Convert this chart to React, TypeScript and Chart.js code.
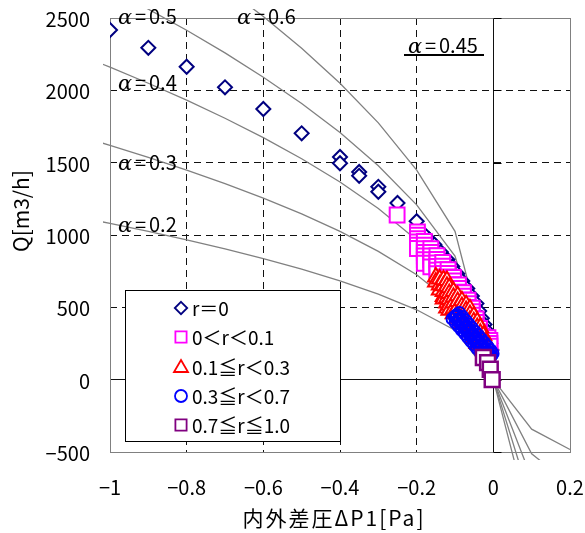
import React, { useEffect, useRef } from 'react';
import { Chart, registerables } from 'chart.js';

Chart.register(...registerables);

const FONT = "'Noto Sans CJK JP', 'Noto Sans', sans-serif";

// ---- axes / text ----
const xTickValues = [-1, -0.8, -0.6, -0.4, -0.2, 0, 0.2];
const yTickValues = [-500, 0, 500, 1000, 1500, 2000, 2500];
const xTitle = '内外差圧ΔP1[Pa]';
const yTitle = 'Q[m3/h]';
const legendLabels = ['r＝0', '0＜r＜0.1', '0.1≦r＜0.3', '0.3≦r＜0.7', '0.7≦r≦1.0'];

// ---- alpha reference curves ----
const curveX = [-1.1, -1, -0.9, -0.8, -0.7, -0.6, -0.5, -0.4, -0.3, -0.2, -0.1, 0, 0.1, 0.2, 0.3];
const curveA02 = [1133, 1080, 1025, 966, 904, 837, 764, 683, 592, 483, 342, 0, -342, -483, -592];
const curveA03 = [1699, 1620, 1537, 1449, 1355, 1255, 1146, 1025, 887, 725, 512, 0, -512, -725, -887];
const curveA04 = [2265, 2160, 2049, 1932, 1807, 1673, 1527, 1366, 1183, 966, 683, 0, -683, -966, -1183];
const curveA05 = [2832, 2700, 2561, 2415, 2259, 2091, 1909, 1708, 1479, 1208, 854, 0, -854, -1208, -1479];
const curveA06 = [3398, 3240, 3074, 2898, 2711, 2510, 2291, 2049, 1775, 1449, 1025, 0, -1025, -1449, -1775];

// ---- r = 0 (navy diamonds) ----
const r0X = [-1, -0.9, -0.8, -0.7, -0.6, -0.5, -0.4, -0.4, -0.35, -0.35, -0.3, -0.3, -0.25, -0.2,
  -0.18, -0.167, -0.154, -0.137, -0.12, -0.107, -0.094, -0.081, -0.068, -0.056, -0.044, -0.037,
  -0.03, -0.023, -0.017, -0.012, -0.008, -0.005];
const r0Q = [2417, 2294, 2163, 2021, 1871, 1703, 1539, 1496, 1436, 1409, 1333, 1299, 1221, 1095,
  1003, 967, 934, 882, 830, 782, 733, 682, 630, 578, 526, 474,
  425, 381, 338, 295, 252, 205];

// ---- 0 < r < 0.1 (magenta squares), columns ----
const r1ColX = [-0.251, -0.198, -0.18, -0.163, -0.147, -0.132, -0.118, -0.104, -0.091, -0.078,
  -0.066, -0.055, -0.045, -0.036, -0.028, -0.021, -0.014, -0.009];
const r1ColQ = [
  [1138],
  [1021, 998, 975, 952, 930, 907],
  [955, 930, 905, 880, 855, 830, 805],
  [905, 880, 855, 830, 805, 780],
  [857, 832, 807, 782, 757, 732],
  [810, 785, 760, 735, 710],
  [760, 735, 710, 685, 660],
  [707, 682, 657, 632, 607],
  [655, 630, 605, 580, 555],
  [602, 577, 552, 527, 502],
  [550, 525, 500, 475, 450],
  [495, 470, 445, 420, 395],
  [420, 395, 370, 345],
  [355, 330, 305, 280],
  [300, 275, 250],
  [262, 237, 212],
  [290, 262, 236],
  [272, 250, 232],
];

// ---- 0.1 <= r < 0.3 (red triangles), columns ----
const r2ColX = [-0.15, -0.14, -0.13, -0.121, -0.115, -0.104, -0.093, -0.082, -0.071, -0.061,
  -0.051, -0.042, -0.034, -0.026, -0.019, -0.011];
const r2ColQ = [
  [709, 675],
  [695, 655, 620],
  [690, 650, 610, 575, 557],
  [685, 645, 605, 565, 530, 495],
  [635, 595, 555, 515, 480],
  [610, 570, 530, 490, 455],
  [580, 540, 500, 460, 425],
  [545, 505, 465, 425, 390],
  [518, 478, 438, 398, 360],
  [490, 450, 410, 370, 330],
  [440, 400, 360, 320, 285],
  [400, 360, 320, 280, 250],
  [360, 320, 280, 240],
  [305, 265, 225],
  [262, 222],
  [215],
];

// ---- 0.3 <= r < 0.7 (blue circles) ----
const r3X = [
  -0.0886, -0.0805, -0.0724, -0.0643, -0.0562, -0.0481, -0.04, -0.0319, -0.0238, -0.0157, -0.0076, -0.002,
  -0.0945, -0.0864, -0.0783, -0.0702, -0.0621, -0.054, -0.0459, -0.0378, -0.0297, -0.0216, -0.0135, -0.0054,
  -0.0975, -0.0894, -0.0813, -0.0732, -0.0651, -0.057, -0.0489, -0.0408, -0.0327, -0.0246, -0.0165, -0.0084,
  -0.1005, -0.0924, -0.0843, -0.0762, -0.0681, -0.06, -0.0519, -0.0438, -0.0357, -0.0276, -0.0195, -0.0114,
  -0.1064, -0.0983, -0.0902, -0.0821, -0.074, -0.0659, -0.0578, -0.0497, -0.0416, -0.0335, -0.0254, -0.0173];
const r3Q = [
  460, 434, 409, 383, 358, 332, 307, 281, 255, 230, 204, 180,
  447, 421, 396, 370, 345, 319, 294, 268, 242, 217, 191, 166,
  440, 414, 389, 363, 338, 312, 287, 261, 235, 210, 184, 159,
  433, 407, 382, 356, 331, 305, 280, 254, 228, 203, 177, 152,
  420, 394, 369, 343, 318, 292, 267, 241, 215, 190, 164, 140];

// ---- 0.7 <= r <= 1.0 (purple squares) ----
const r4X = [-0.026, -0.015, -0.008, -0.003];
const r4Q = [153, 118, 72, 0];

const pts = (xs: number[], qs: number[]) => xs.map((x, i) => ({ x, y: qs[i] }));
const colPts = (xs: number[], cols: number[][]) => {
  const out: { x: number; y: number }[] = [];
  xs.forEach((x, i) => cols[i].forEach((q) => out.push({ x, y: q })));
  return out;
};

const fmtX = (v: number) => String(Math.round(v * 10) / 10).replace('-', '\u2212');
const fmtY = (v: number) => String(Math.round(v)).replace('-', '\u2212');
const isZero = (v: number) => Math.abs(v) < 1e-9;

function drawMark(ctx: CanvasRenderingContext2D, kind: string, x: number, y: number, color: string, fill: string) {
  ctx.save();
  ctx.lineWidth = 1.8;
  ctx.strokeStyle = color;
  ctx.fillStyle = fill;
  ctx.beginPath();
  if (kind === 'diamond') {
    const r = 6.2;
    ctx.moveTo(x, y - r); ctx.lineTo(x + r, y); ctx.lineTo(x, y + r); ctx.lineTo(x - r, y); ctx.closePath();
  } else if (kind === 'square') {
    const h = 5.6;
    ctx.rect(x - h, y - h, 2 * h, 2 * h);
  } else if (kind === 'triangle') {
    ctx.moveTo(x, y - 6.5); ctx.lineTo(x + 7, y + 5.5); ctx.lineTo(x - 7, y + 5.5); ctx.closePath();
  } else {
    ctx.arc(x, y, 6, 0, Math.PI * 2);
  }
  ctx.fill();
  ctx.stroke();
  ctx.restore();
}

function alphaLabel(ctx: CanvasRenderingContext2D, x: number, base: number, val: string) {
  ctx.save();
  ctx.fillStyle = '#000';
  ctx.textBaseline = 'alphabetic';
  ctx.textAlign = 'left';
  ctx.font = "italic 21px 'DejaVu Serif'";
  ctx.fillText('α', x, base);
  ctx.font = `20px ${FONT}`;
  ctx.fillText('=', x + 17, base);
  ctx.fillText(val, x + 31, base);
  ctx.restore();
}

const overlay = {
  id: 'overlay',
  beforeDatasetsDraw(chart: any) {
    const { ctx, chartArea: a, scales } = chart;
    ctx.save();
    ctx.strokeStyle = '#808080';
    ctx.lineWidth = 1;
    ctx.strokeRect(Math.round(a.left) + 0.5, Math.round(a.top) + 0.5, Math.round(a.right - a.left), Math.round(a.bottom - a.top));
    // tick marks on the vertical axis at x = 0
    const x0 = Math.round(scales.x.getPixelForValue(0)) + 0.5;
    ctx.strokeStyle = '#000';
    ctx.beginPath();
    yTickValues.forEach((v) => {
      const y = Math.round(scales.y.getPixelForValue(v)) + 0.5;
      ctx.moveTo(x0, y);
      ctx.lineTo(x0 + 8, y);
    });
    ctx.stroke();
    ctx.restore();
  },
  afterDraw(chart: any) {
    const { ctx } = chart;
    ctx.save();
    // alpha labels
    alphaLabel(ctx, 118, 23.5, '0.5');
    alphaLabel(ctx, 237, 23.5, '0.6');
    alphaLabel(ctx, 118, 89.5, '0.4');
    alphaLabel(ctx, 118, 169.5, '0.3');
    alphaLabel(ctx, 118, 231.5, '0.2');
    alphaLabel(ctx, 408, 53, '0.45');
    ctx.fillStyle = '#000';
    ctx.fillRect(404, 54, 80, 2);

    // legend
    ctx.fillStyle = '#fff';
    ctx.fillRect(125.5, 290.5, 215, 151);
    ctx.strokeStyle = '#000';
    ctx.lineWidth = 1;
    ctx.strokeRect(125.5, 290.5, 215, 151);
    const kinds = ['diamond', 'square', 'triangle', 'circle', 'square'];
    const colors = ['#000080', '#ff00ff', '#ff0000', '#0000ff', '#800080'];
    const ys = [308, 337, 366.5, 396, 425];
    kinds.forEach((k, i) => {
      drawMark(ctx, k, 181, ys[i], colors[i], '#fff');
      ctx.fillStyle = '#000';
      ctx.font = `19px ${FONT}`;
      ctx.textBaseline = 'middle';
      ctx.textAlign = 'left';
      ctx.fillText(legendLabels[i], 192, ys[i] + 1);
    });

    // axis titles
    ctx.fillStyle = '#000';
    ctx.font = `21px ${FONT}`;
    ctx.textAlign = 'center';
    ctx.textBaseline = 'middle';
    try { (ctx as any).letterSpacing = '2px'; } catch (e) { /* ignore */ }
    ctx.fillText(xTitle, 334, 518);
    try { (ctx as any).letterSpacing = '0px'; } catch (e) { /* ignore */ }
    ctx.save();
    ctx.translate(21, 211);
    ctx.rotate(-Math.PI / 2);
    ctx.font = `21px ${FONT}`;
    ctx.fillText(yTitle, 0, 0);
    ctx.restore();
    ctx.restore();
  },
};

export default function App() {
  const ref = useRef<HTMLCanvasElement>(null);
  useEffect(() => {
    if (!ref.current) return;
    const lineStyle = (arr: number[]) => ({
      type: 'scatter',
      data: curveX.map((x, i) => ({ x, y: arr[i] })),
      showLine: true,
      borderColor: '#808080',
      borderWidth: 1.3,
      pointRadius: 0,
      clip: { left: 7, top: 9, right: 16, bottom: 8 },
      order: 10,
    });
    const datasets: any[] = [
      {
        data: pts(r4X, r4Q), pointStyle: 'rect', pointRadius: 10.5, borderWidth: 2.5,
        borderColor: '#800080', backgroundColor: '#ffffff', order: 1,
      },
      {
        data: pts(r3X, r3Q), pointStyle: 'circle', pointRadius: 6, borderWidth: 2,
        borderColor: '#0000ff', backgroundColor: 'rgba(0,0,0,0)', order: 2,
      },
      {
        data: colPts(r2ColX, r2ColQ), pointStyle: 'triangle', pointRadius: 9, borderWidth: 2,
        borderColor: '#ff0000', backgroundColor: '#ffffff', order: 3,
      },
      {
        data: colPts(r1ColX, r1ColQ), pointStyle: 'rect', pointRadius: 10.5, borderWidth: 2,
        borderColor: '#ff00ff', backgroundColor: '#ffffff', order: 4,
      },
      {
        data: pts(r0X, r0Q), pointStyle: 'rectRot', pointRadius: 7, borderWidth: 2,
        borderColor: '#000080', backgroundColor: '#ffffff', order: 5,
      },
      lineStyle(curveA02), lineStyle(curveA03), lineStyle(curveA04), lineStyle(curveA05), lineStyle(curveA06),
    ];
    const chart = new Chart(ref.current, {
      type: 'scatter',
      data: { datasets },
      options: {
        responsive: false,
        animation: false,
        events: [],
        layout: { padding: { top: 18, right: 15, left: 0, bottom: 0 } },
        plugins: { legend: { display: false }, tooltip: { enabled: false } },
        scales: {
          x: {
            type: 'linear', min: -1, max: 0.2,
            afterBuildTicks: (s: any) => { s.ticks = xTickValues.map((value) => ({ value })); },
            afterFit: (s: any) => {
              s.height = 81;
              s.paddingLeft = 0; s.paddingRight = 0; s.paddingTop = 0; s.paddingBottom = 0;
            },
            grid: {
              drawTicks: false, lineWidth: 1,
              color: (c: any) => {
                const v = c.tick ? c.tick.value : 0;
                if (Math.abs(v + 1) < 1e-9 || Math.abs(v - 0.2) < 1e-9) return 'rgba(0,0,0,0)';
                return '#111';
              },
            },
            border: {
              display: false,
              dash: (c: any) => (c.tick && !isZero(c.tick.value) ? [7, 5] : []),
            },
            ticks: {
              autoSkip: false, maxRotation: 0, padding: 23, color: '#000',
              font: { family: FONT, size: 20 },
              callback: (v: any) => fmtX(Number(v)),
            },
          },
          y: {
            type: 'linear', min: -500, max: 2500,
            afterBuildTicks: (s: any) => { s.ticks = yTickValues.map((value) => ({ value })); },
            afterFit: (s: any) => {
              s.width = 110;
              s.paddingLeft = 0; s.paddingRight = 0; s.paddingTop = 0; s.paddingBottom = 0;
            },
            grid: {
              drawTicks: false, lineWidth: 1,
              color: (c: any) => {
                const v = c.tick ? c.tick.value : 0;
                if (v === -500 || v === 2500) return 'rgba(0,0,0,0)';
                return '#111';
              },
            },
            border: {
              display: false,
              dash: (c: any) => (c.tick && !isZero(c.tick.value) ? [7, 5] : []),
            },
            ticks: {
              autoSkip: false, padding: 20, color: '#000', labelOffset: 1.5,
              font: { family: FONT, size: 20 },
              callback: (v: any) => fmtY(Number(v)),
            },
          },
        },
      },
      plugins: [overlay],
    } as any);
    return () => chart.destroy();
  }, []);
  return (
    <div style={{ position: 'absolute', left: 0, top: 0, width: 585, height: 533, background: '#fff' }}>
      <canvas ref={ref} width={585} height={533} style={{ display: 'block' }} />
    </div>
  );
}
